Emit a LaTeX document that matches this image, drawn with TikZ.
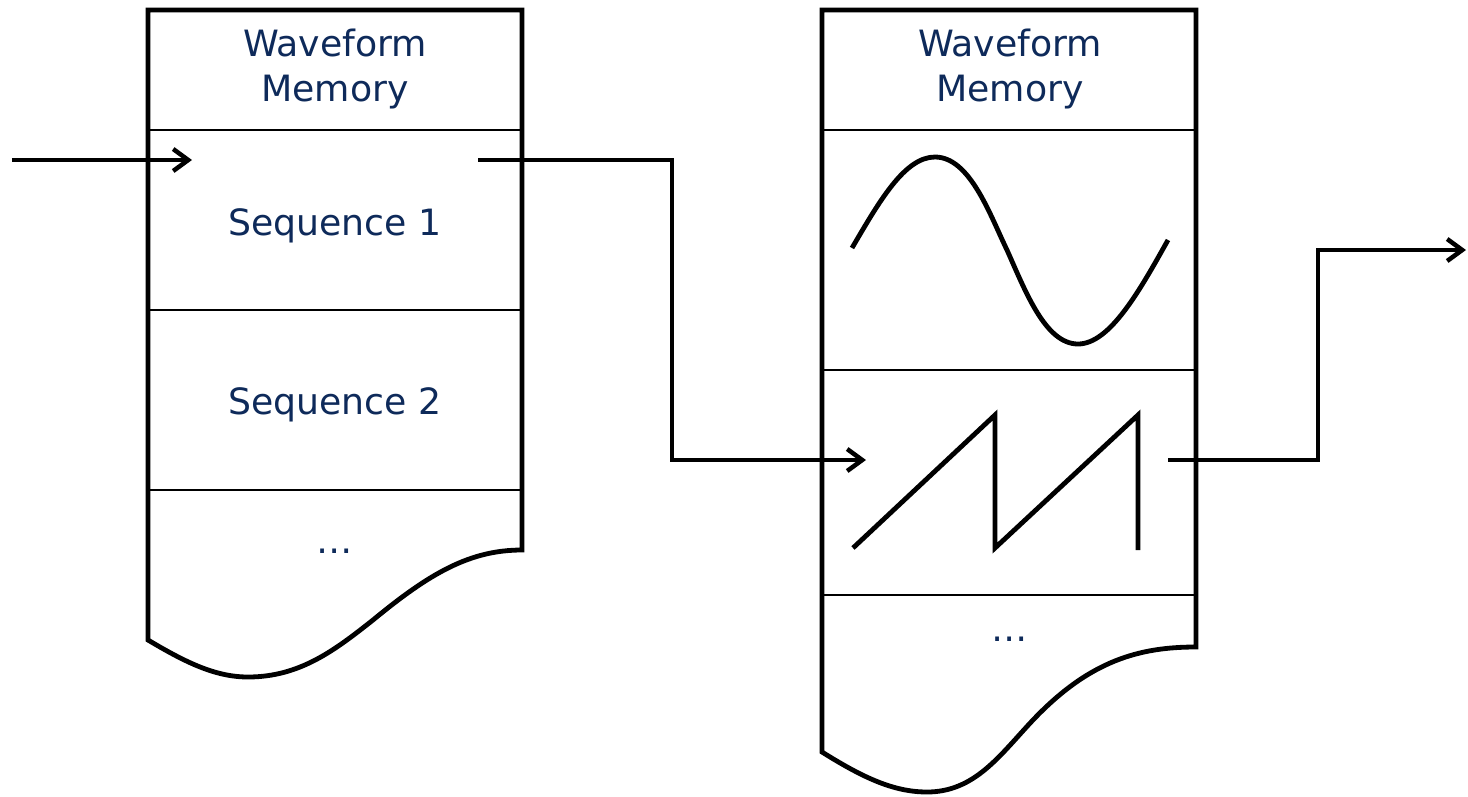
\documentclass[tikz,border=0pt]{standalone}
\usepackage{fontspec}
\setmainfont{DejaVu Sans}
\usetikzlibrary{arrows.meta}
\definecolor{memtext}{HTML}{0E2A5A}
\tikzset{
	outline/.style={line width=0.048cm, line join=miter},
	divider/.style={line width=0.022cm},
	wire/.style={line width=0.045cm, -{Straight Barb[length=1.5mm, width=2.2mm]}},
	signal/.style={line width=0.048cm},
	memlabel/.style={text=memtext, font=\fontsize{10.3}{12.6}\selectfont, align=center, inner sep=0pt},
}

\begin{document}
\begin{tikzpicture}[x=0.01cm, y=-0.01cm]
	\useasboundingbox (0,0) rectangle (1468,796);

	\foreach \y in {130,310,490} \draw[divider] (148,\y) -- (522,\y);
	\draw[outline] (522,550) -- (522,10) -- (148,10) -- (148,640)
		.. controls (185,662) and (215,677) .. (248,677)
		.. controls (300,677) and (335,650) .. (373,620)
		.. controls (430,573) and (470,550) .. (522,550) -- cycle;

	\foreach \y in {130,370,595} \draw[divider] (822,\y) -- (1196,\y);
	\draw[outline] (1196,647) -- (1196,10) -- (822,10) -- (822,752)
		.. controls (862,777) and (893,792) .. (927,792)
		.. controls (975,792) and (1000,755) .. (1033,720)
		.. controls (1090,660) and (1140,647) .. (1196,647) -- cycle;

	\node[memlabel] (wm1) at (335,69) {Waveform\\Memory};
	\node[memlabel] (seq1) at (335,226) {Sequence 1};
	\node[memlabel] (seq2) at (335,405) {Sequence 2};
	\node[memlabel, anchor=base] (more1) at (335,553) {…};
	\node[memlabel] (wm2) at (1010,69) {Waveform\\Memory};
	\node[memlabel, anchor=base] (more2) at (1010,641) {…};

	\draw[signal] (852,248) .. controls (880,200) and (905,157) .. (935,157)
		.. controls (970,157) and (990,215) .. (1007,250)
		.. controls (1025,290) and (1045,344) .. (1078,344)
		.. controls (1110,344) and (1140,290) .. (1168,240);
	\draw[signal] (853,548) -- (995,415) -- (995,548) -- (1138,415) -- (1138,550);

	\coordinate (src) at (12,160);
	\coordinate (seq1in) at (192,160);
	\coordinate (seq1out) at (478,160);
	\coordinate (bend1) at (672,300);
	\coordinate (sawin) at (866,460);
	\coordinate (sawout) at (1168,460);
	\coordinate (bend2) at (1318,350);
	\coordinate (dst) at (1466,250);

	\draw[wire] (src) -- (seq1in);
	\draw[wire] (seq1out) -| (bend1) |- (sawin);
	\draw[wire] (sawout) -| (bend2) |- (dst);
\end{tikzpicture}
\end{document}
